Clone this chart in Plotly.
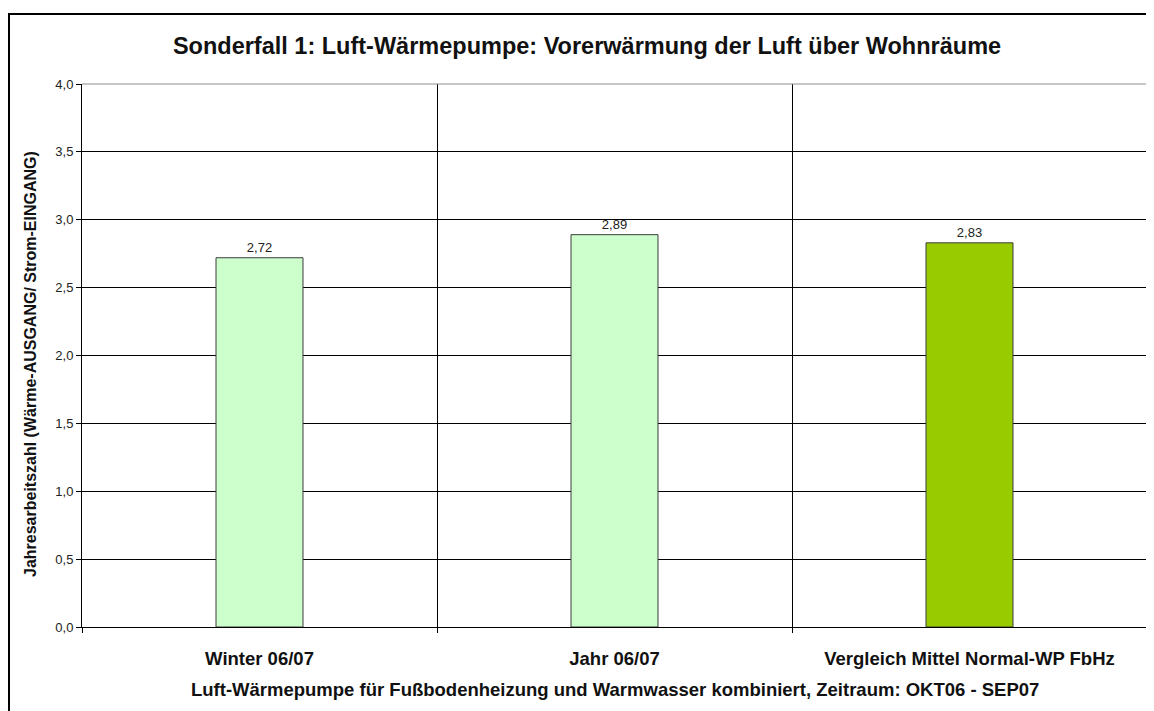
import plotly.graph_objects as go

categories = ["Winter 06/07", "Jahr 06/07", "Vergleich Mittel Normal-WP FbHz"]
values = [2.72, 2.89, 2.83]
bar_colors = ["#CCFFCC", "#CCFFCC", "#99CC00"]
y_ticks = [0.0, 0.5, 1.0, 1.5, 2.0, 2.5, 3.0, 3.5, 4.0]

title_text = "Sonderfall 1: Luft-Wärmepumpe: Vorerwärmung der Luft über Wohnräume"
y_title = "Jahresarbeitszahl (Wärme-AUSGANG/ Strom-EINGANG)"
x_title = "Luft-Wärmepumpe für Fußbodenheizung und Warmwasser kombiniert, Zeitraum: OKT06 - SEP07"

FONT = "Liberation Sans, Arial, sans-serif"

W, H = 1146, 703
L, R, T, B = 74, 7, 76, 84
PW, PH = W - L - R, H - T - B

x_pos = [i + 0.5 for i in range(len(categories))]
boundaries = list(range(len(categories) + 1))

fig = go.Figure()
fig.add_trace(go.Bar(
    x=x_pos,
    y=values,
    width=0.245,
    marker=dict(color=bar_colors, line=dict(color="#3a3a3a", width=1)),
    text=values,
    texttemplate="%{y:.2f}",
    textposition="outside",
    textfont=dict(family=FONT, size=13, color="#222222"),
    cliponaxis=False,
    hoverinfo="skip",
))

fig.update_layout(
    width=W,
    height=H,
    margin=dict(l=L, r=R, t=T, b=B),
    paper_bgcolor="white",
    plot_bgcolor="white",
    separators=",.",
    showlegend=False,
    font=dict(family=FONT, color="#222222"),
    title=dict(
        text="<b>" + title_text + "</b>",
        x=579 / W, xref="container", xanchor="center",
        y=1 - 38 / H, yref="container", yanchor="middle",
        font=dict(family=FONT, size=23.5, color="#111111"),
    ),
    xaxis=dict(
        range=[0, len(categories)],
        tickvals=x_pos,
        ticktext=["<b>" + c + "</b>" for c in categories],
        tickfont=dict(family=FONT, size=18.5, color="#111111"),
        ticks="",
        ticklabelstandoff=15,
        showgrid=False,
        showline=True, linecolor="#000000", linewidth=1,
        zeroline=False,
        minor=dict(tickvals=boundaries, ticks="outside", ticklen=5,
                   tickcolor="#000000", showgrid=True,
                   gridcolor="#000000", gridwidth=1),
        fixedrange=True,
    ),
    yaxis=dict(
        range=[0, 4],
        tickvals=y_ticks,
        tickformat=".1f",
        tickfont=dict(family=FONT, size=13, color="#222222"),
        ticks="outside", ticklen=5, tickcolor="#000000",
        showgrid=True, gridcolor="#000000", gridwidth=1,
        showline=True, linecolor="#000000", linewidth=1,
        zeroline=False,
        fixedrange=True,
    ),
    annotations=[
        dict(text="<b>" + y_title + "</b>", textangle=-90,
             xref="paper", yref="paper", x=(22 - L) / PW, y=(T + PH - 356) / PH,
             showarrow=False, xanchor="center", yanchor="middle",
             font=dict(family=FONT, size=16, color="#111111")),
        dict(text="<b>" + x_title + "</b>",
             xref="paper", yref="paper", x=0.5, y=(T + PH - 681) / PH,
             showarrow=False, xanchor="center", yanchor="middle",
             font=dict(family=FONT, size=18.5, color="#111111")),
    ],
    shapes=[
        dict(type="path", xref="paper", yref="paper",
             path="M 0,1 L 1,1 L 1,0", line=dict(color="#8c8c8c", width=1),
             layer="above"),
        dict(type="rect", xref="paper", yref="paper",
             x0=(1 - L) / PW, x1=(W + 20 - L) / PW,
             y0=(T + PH - (H + 20)) / PH, y1=(T + PH - 6) / PH,
             line=dict(color="#000000", width=2), layer="below"),
    ],
)

fig.write_html("out.html")
